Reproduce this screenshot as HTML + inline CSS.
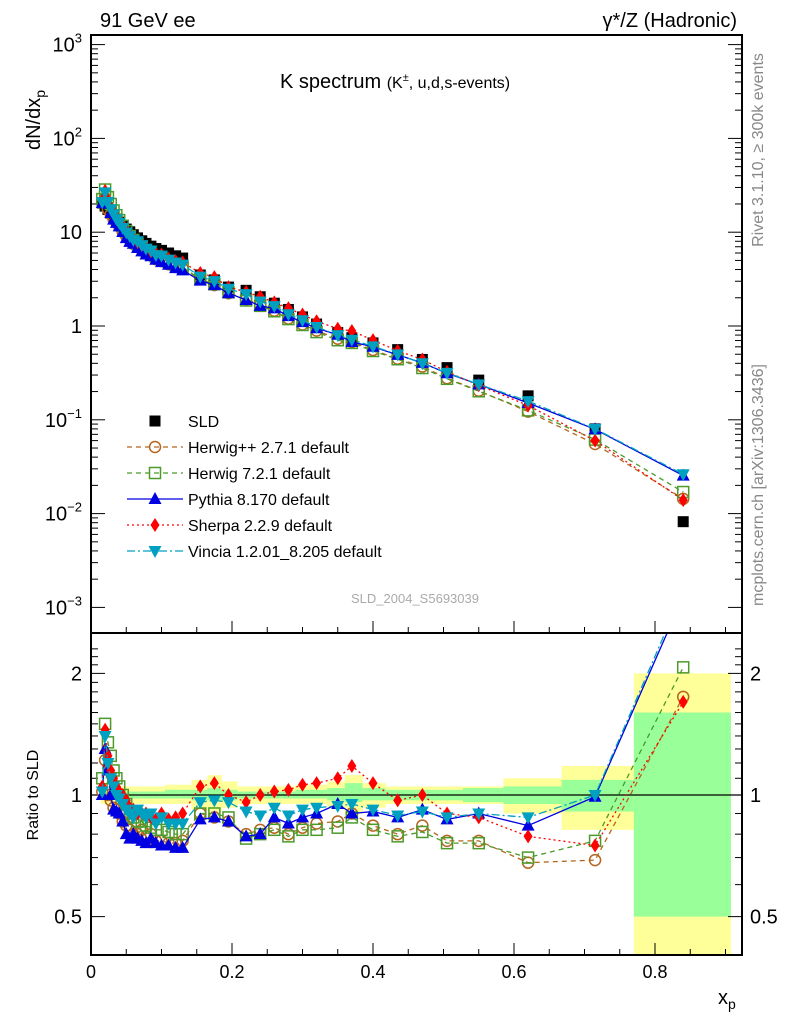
<!DOCTYPE html>
<html><head><meta charset="utf-8"><style>
body{margin:0;background:#fff}
svg{font-family:"Liberation Sans",sans-serif;display:block}
</style></head><body>
<svg id="c" width="786" height="1024" viewBox="0 0 786 1024" xmlns="http://www.w3.org/2000/svg">
<defs>
<clipPath id="cu"><rect x="91" y="35" width="651" height="598"/></clipPath>
<clipPath id="cl"><rect x="91" y="633" width="651" height="322"/></clipPath>
</defs>
<g id="bands" clip-path="url(#cl)"></g>
<g id="grid"></g>
<g id="upper" clip-path="url(#cu)"></g>
<g id="lower" clip-path="url(#cl)"></g>
<g id="legend"></g>
<rect x="91" y="35" width="651" height="598" fill="none" stroke="#000" stroke-width="2"/>
<rect x="91" y="633" width="651" height="322" fill="none" stroke="#000" stroke-width="2"/>
<text x="100" y="27" font-size="20">91 GeV ee</text>
<text x="737" y="27" font-size="20" text-anchor="end">γ*/Z (Hadronic)</text>
<text x="280" y="88" font-size="20">K spectrum <tspan font-size="16">(K<tspan dy="-7" font-size="11">±</tspan><tspan dy="7">, u,d,s-events)</tspan></tspan></text>
<text transform="translate(40,120) rotate(-90)" font-size="20" text-anchor="middle">dN/dx<tspan font-size="14" dy="5">p</tspan></text>
<text transform="translate(38,795) rotate(-90)" font-size="16" text-anchor="middle">Ratio to SLD</text>
<text x="718" y="1004" font-size="20">x<tspan font-size="14" dy="5">p</tspan></text>
<text transform="translate(763,150) rotate(-90)" font-size="16" fill="#888" text-anchor="middle">Rivet 3.1.10, ≥ 300k events</text>
<text transform="translate(763,485) rotate(-90)" font-size="16" fill="#888" text-anchor="middle">mcplots.cern.ch [arXiv:1306.3436]</text>
<text x="415" y="603" font-size="13" fill="#aaa" text-anchor="middle">SLD_2004_S5693039</text>
</svg>
<script>
const xs=[0.016,0.02,0.024,0.028,0.032,0.036,0.04,0.045,0.05,0.055,0.06,0.066,0.072,0.078,0.085,0.092,0.1,0.11,0.12,0.13,0.155,0.175,0.195,0.22,0.24,0.26,0.28,0.3,0.32,0.35,0.37,0.4,0.435,0.47,0.505,0.55,0.62,0.715,0.84];
const sld=[20.5,19,17.5,16,14.8,13.8,12.8,11.7,10.8,10.1,9.4,8.7,8.1,7.6,7.1,6.7,6.4,6.0,5.6,5.3,3.5,3.1,2.6,2.4,2.05,1.75,1.5,1.25,1.05,0.85,0.75,0.66,0.56,0.44,0.36,0.265,0.18,0.08,0.0082];
const rHerwigPP=[1.02,1.22,1.0,0.97,0.93,0.92,0.9,0.86,0.84,0.82,0.8,0.8,0.82,0.79,0.8,0.77,0.77,0.76,0.76,0.77,0.9,0.88,0.86,0.8,0.82,0.83,0.8,0.83,0.85,0.86,0.9,0.84,0.8,0.84,0.77,0.77,0.68,0.69,1.75];
const rHerwig7=[1.1,1.5,1.35,1.25,1.15,1.1,1.05,1.0,0.95,0.9,0.88,0.86,0.86,0.84,0.83,0.82,0.82,0.81,0.8,0.8,0.9,0.9,0.88,0.78,0.8,0.82,0.79,0.82,0.82,0.83,0.88,0.82,0.79,0.81,0.76,0.76,0.7,0.77,2.07];
const rPythia=[1.0,1.3,1.15,1.0,0.92,0.91,0.9,0.86,0.8,0.78,0.8,0.78,0.77,0.76,0.78,0.76,0.75,0.75,0.74,0.74,0.87,0.88,0.86,0.79,0.8,0.88,0.85,0.88,0.9,0.95,0.9,0.91,0.88,0.92,0.87,0.9,0.84,0.99,3.1];
const rSherpa=[1.05,1.45,1.25,1.15,1.1,1.05,1.02,1.0,0.97,0.93,0.92,0.9,0.9,0.9,0.88,0.87,0.9,0.87,0.88,0.9,1.05,1.07,1.0,0.96,1.0,1.02,1.03,1.06,1.07,1.1,1.18,1.07,0.97,1.0,0.9,0.88,0.79,0.75,1.7];
const rVincia=[1.02,1.4,1.2,1.1,1.05,1.0,0.98,0.95,0.92,0.9,0.88,0.92,0.9,0.88,0.9,0.85,0.88,0.85,0.85,0.85,0.96,0.97,0.96,0.91,0.89,0.93,0.89,0.92,0.93,0.94,0.95,0.92,0.89,0.91,0.88,0.9,0.88,1.0,3.2];
const totLo=[0.95,0.95,0.95,0.95,0.95,0.95,0.95,0.95,0.95,0.95,0.95,0.95,0.95,0.95,0.95,0.95,0.95,0.95,0.95,0.95,0.92,0.91,0.93,0.95,0.95,0.95,0.95,0.95,0.95,0.93,0.9,0.93,0.95,0.95,0.95,0.95,0.9,0.82,0.35];
const totHi=[1.05,1.05,1.05,1.05,1.05,1.05,1.05,1.05,1.05,1.05,1.05,1.05,1.05,1.05,1.05,1.05,1.05,1.06,1.06,1.06,1.09,1.12,1.08,1.05,1.05,1.05,1.05,1.06,1.06,1.08,1.12,1.07,1.05,1.05,1.05,1.05,1.1,1.18,2.0];
const statLo=[0.98,0.98,0.98,0.98,0.98,0.98,0.98,0.98,0.98,0.98,0.98,0.98,0.98,0.98,0.98,0.98,0.98,0.98,0.98,0.98,0.97,0.97,0.97,0.98,0.98,0.98,0.98,0.98,0.98,0.97,0.96,0.97,0.97,0.97,0.97,0.96,0.95,0.91,0.5];
const statHi=[1.02,1.02,1.02,1.02,1.02,1.02,1.02,1.02,1.02,1.02,1.02,1.02,1.02,1.02,1.02,1.02,1.02,1.03,1.03,1.03,1.03,1.04,1.03,1.02,1.02,1.02,1.02,1.03,1.03,1.04,1.07,1.04,1.03,1.03,1.03,1.04,1.05,1.09,1.6];
const xTicks=[0,0.2,0.4,0.6,0.8];
const yDecades=[-3,-2,-1,0,1,2,3];
const rTicks=[0.5,1,2];

const NS="http://www.w3.org/2000/svg";
const X=v=>91+705*v;
const Y=v=>326-93.8*Math.log10(v);
const R=v=>795-404*Math.log10(v);
function mk(tag,attrs,parent){const e=document.createElementNS(NS,tag);for(const k in attrs)e.setAttribute(k,attrs[k]);parent.appendChild(e);return e;}
const G=id=>document.getElementById(id);

const edges=[];
edges.push(xs[0]-(xs[1]-xs[0])/2);
for(let i=0;i<xs.length-1;i++)edges.push((xs[i]+xs[i+1])/2);
edges[edges.length-1]=0.77;
edges.push(0.907);
const bg=G('bands');
for(let i=0;i<xs.length;i++){
  const x0=X(edges[i]),x1=X(edges[i+1]);
  const a=mk('rect',{x:x0,y:R(totHi[i]),width:x1-x0+0.5,height:R(totLo[i])-R(totHi[i]),fill:'#ffff99'},bg);
  
  
  const b=mk('rect',{x:x0,y:R(statHi[i]),width:x1-x0+0.5,height:R(statLo[i])-R(statHi[i]),fill:'#99ff99'},bg);
  
  
}
const grid=G('grid');
const one=mk('line',{x1:91,x2:742,y1:R(1),y2:R(1),stroke:'#000','stroke-width':1.2},grid);


xTicks.forEach(t=>{
  const x=X(t);
  mk('line',{x1:x,x2:x,y1:955,y2:943,stroke:'#000'},grid);
  mk('line',{x1:x,x2:x,y1:633,y2:621,stroke:'#000'},grid);
  const tx=mk('text',{x:x,y:978,'font-size':18,'text-anchor':'middle'},grid);
  tx.textContent=t===0?'0':t.toFixed(1);
  
  
});
for(let t=0.05;t<0.92;t+=0.05){const x=X(t);mk('line',{x1:x,x2:x,y1:955,y2:949,stroke:'#000'},grid);mk('line',{x1:x,x2:x,y1:633,y2:627,stroke:'#000'},grid);}
yDecades.forEach(d=>{
  const y=Y(Math.pow(10,d));
  mk('line',{x1:91,x2:105,y1:y,y2:y,stroke:'#000'},grid);
  mk('line',{x1:742,x2:728,y1:y,y2:y,stroke:'#000'},grid);
  for(let m=2;m<10;m++){const yy=Y(m*Math.pow(10,d));if(yy>35&&yy<633){mk('line',{x1:91,x2:98,y1:yy,y2:yy,stroke:'#000'},grid);mk('line',{x1:742,x2:735,y1:yy,y2:yy,stroke:'#000'},grid);}}
  const tx=mk('text',{x:82,y:y+7,'font-size':20,'text-anchor':'end'},grid);
  if(d===0)tx.textContent='1';else if(d===1)tx.textContent='10';
  else{tx.textContent='10';const s=mk('tspan',{dy:-9,'font-size':13},tx);s.textContent=String(d).replace('-','−');}
  
  
});
rTicks.forEach(t=>{
  const y=R(t);
  mk('line',{x1:91,x2:105,y1:y,y2:y,stroke:'#000'},grid);
  mk('line',{x1:742,x2:728,y1:y,y2:y,stroke:'#000'},grid);
  [82,750].forEach((xx,i)=>{const tx=mk('text',{x:xx,y:y+7,'font-size':20,'text-anchor':i?'start':'end'},grid);tx.textContent=String(t);
  
  });
});
for(let t=0.4;t<2.4;t+=0.1){if(Math.abs(t-0.5)<0.01||Math.abs(t-1)<0.01||Math.abs(t-2)<0.01)continue;const y=R(t);if(y>633&&y<955){mk('line',{x1:91,x2:98,y1:y,y2:y,stroke:'#000'},grid);mk('line',{x1:742,x2:735,y1:y,y2:y,stroke:'#000'},grid);}}

const series=[
 {name:'herwigpp',label:'Herwig++ 2.7.1 default',r:rHerwigPP,color:'#b5651d',dash:'5,4',mark:'circle'},
 {name:'herwig7',label:'Herwig 7.2.1 default',r:rHerwig7,color:'#4c9a2a',dash:'5,4',mark:'osquare'},
 {name:'pythia',label:'Pythia 8.170 default',r:rPythia,color:'#0000e0',dash:'none',mark:'tri'},
 {name:'sherpa',label:'Sherpa 2.2.9 default',r:rSherpa,color:'#ff0000',dash:'2,3',mark:'diamond'},
 {name:'vincia',label:'Vincia 1.2.01_8.205 default',r:rVincia,color:'#00a0c0',dash:'8,3,2,3',mark:'itri'}
];
function marker(g,type,x,y,c){
  let e;
  if(type==='circle')e=mk('circle',{cx:x,cy:y,r:5.5,fill:'none',stroke:c,'stroke-width':1.5},g);
  else if(type==='osquare')e=mk('rect',{x:x-5.5,y:y-5.5,width:11,height:11,fill:'none',stroke:c,'stroke-width':1.5},g);
  else if(type==='square')e=mk('rect',{x:x-5.5,y:y-5.5,width:11,height:11,fill:c},g);
  else if(type==='tri')e=mk('polygon',{points:`${x},${y-7} ${x-6.5},${y+5} ${x+6.5},${y+5}`,fill:c},g);
  else if(type==='itri')e=mk('polygon',{points:`${x},${y+7} ${x-6.5},${y-5} ${x+6.5},${y-5}`,fill:c},g);
  else e=mk('polygon',{points:`${x},${y-7} ${x-4.5},${y} ${x},${y+7} ${x+4.5},${y}`,fill:c},g);
  return e;
}
const up=G('upper'),lo=G('lower');
xs.forEach((x,i)=>{const m=marker(up,'square',X(x),Y(sld[i]),'#000');
  
  });
series.forEach(s=>{
  const pu=xs.map((x,i)=>X(x)+','+Y(sld[i]*s.r[i])).join(' ');
  const l1=mk('polyline',{points:pu,fill:'none',stroke:s.color,'stroke-width':1.3,'stroke-dasharray':s.dash},up);
  
  
  const pl=xs.map((x,i)=>X(x)+','+R(s.r[i])).join(' ');
  const l2=mk('polyline',{points:pl,fill:'none',stroke:s.color,'stroke-width':1.3,'stroke-dasharray':s.dash},lo);
  
  
  xs.forEach((x,i)=>{
    const m1=marker(up,s.mark,X(x),Y(sld[i]*s.r[i]),s.color);
    
    
    const m2=marker(lo,s.mark,X(x),R(s.r[i]),s.color);
    
    
  });
});
const lg=G('legend');
const ls=marker(lg,'square',155,421,'#000');


const lt=mk('text',{x:188,y:427,'font-size':16},lg);lt.textContent='SLD';


series.forEach((s,i)=>{
  const y=447+i*26;
  const ll=mk('line',{x1:127,x2:183,y1:y,y2:y,stroke:s.color,'stroke-width':1.3,'stroke-dasharray':s.dash},lg);
  
  
  const lm=marker(lg,s.mark,155,y,s.color);
  
  
  const t=mk('text',{x:188,y:y+6,'font-size':16},lg);t.textContent=s.label;
  
  
});
</script>
</body></html>
